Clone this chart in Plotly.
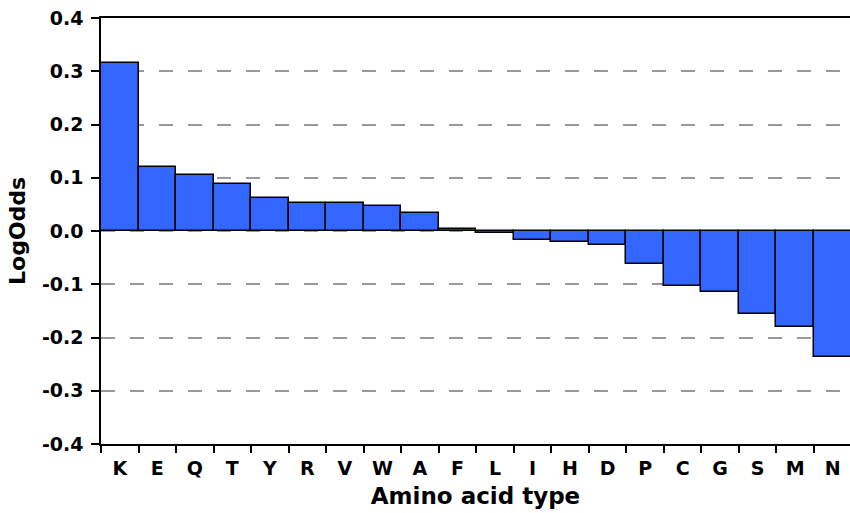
import plotly.graph_objects as go

categories = ["K", "E", "Q", "T", "Y", "R", "V", "W", "A", "F",
              "L", "I", "H", "D", "P", "C", "G", "S", "M", "N"]
log_odds = [0.316, 0.120, 0.105, 0.088, 0.062, 0.053, 0.052, 0.0475, 0.034, 0.004,
            -0.004, -0.017, -0.021, -0.026, -0.062, -0.103, -0.114, -0.155, -0.180, -0.237]
y_ticks = [0.4, 0.3, 0.2, 0.1, 0.0, -0.1, -0.2, -0.3, -0.4]
y_tick_text = ["0.4", "0.3", "0.2", "0.1", "0.0", "-0.1", "-0.2", "-0.3", "-0.4"]

font_family = "DejaVu Sans"
plot_w = 850 - 101

fig = go.Figure(go.Bar(
    x=categories, y=log_odds,
    marker=dict(color="#3366FF", line=dict(color="black", width=1.5)),
))

fig.update_layout(
    width=850, height=513,
    margin=dict(l=101, r=0, t=18, b=69),
    paper_bgcolor="white", plot_bgcolor="white",
    bargap=0,
    showlegend=False,
    font=dict(family=font_family, color="black"),
    annotations=[dict(
        text="<b>LogOdds</b>", textangle=-90,
        xref="paper", yref="paper",
        x=(17 - 101) / plot_w, y=0.5,
        xanchor="center", yanchor="middle", showarrow=False,
        font=dict(family=font_family, size=22, color="black"),
    )],
)

fig.update_xaxes(
    type="category",
    range=[-0.5, 19.46],
    tickson="boundaries",
    ticks="outside", ticklen=7, tickwidth=1.5, tickcolor="black",
    showline=True, linecolor="black", linewidth=1.5, mirror=True,
    showgrid=False,
    ticklabelstandoff=6,
    tickfont=dict(family=font_family, size=19, color="black", weight="bold"),
    title=dict(text="<b>Amino acid type</b>", font=dict(family=font_family, size=23, color="black"), standoff=10),
)

fig.update_yaxes(
    range=[-0.4, 0.4],
    tickvals=y_ticks, ticktext=y_tick_text,
    ticks="outside", ticklen=8, tickwidth=1.5, tickcolor="black",
    showline=True, linecolor="black", linewidth=1.5, mirror=False,
    showgrid=True, gridcolor="#999999", gridwidth=1.5, griddash="14px,15px",
    zeroline=False,
    ticklabelstandoff=4,
    tickfont=dict(family=font_family, size=19, color="black", weight="bold"),
)

fig.write_html("out.html")
